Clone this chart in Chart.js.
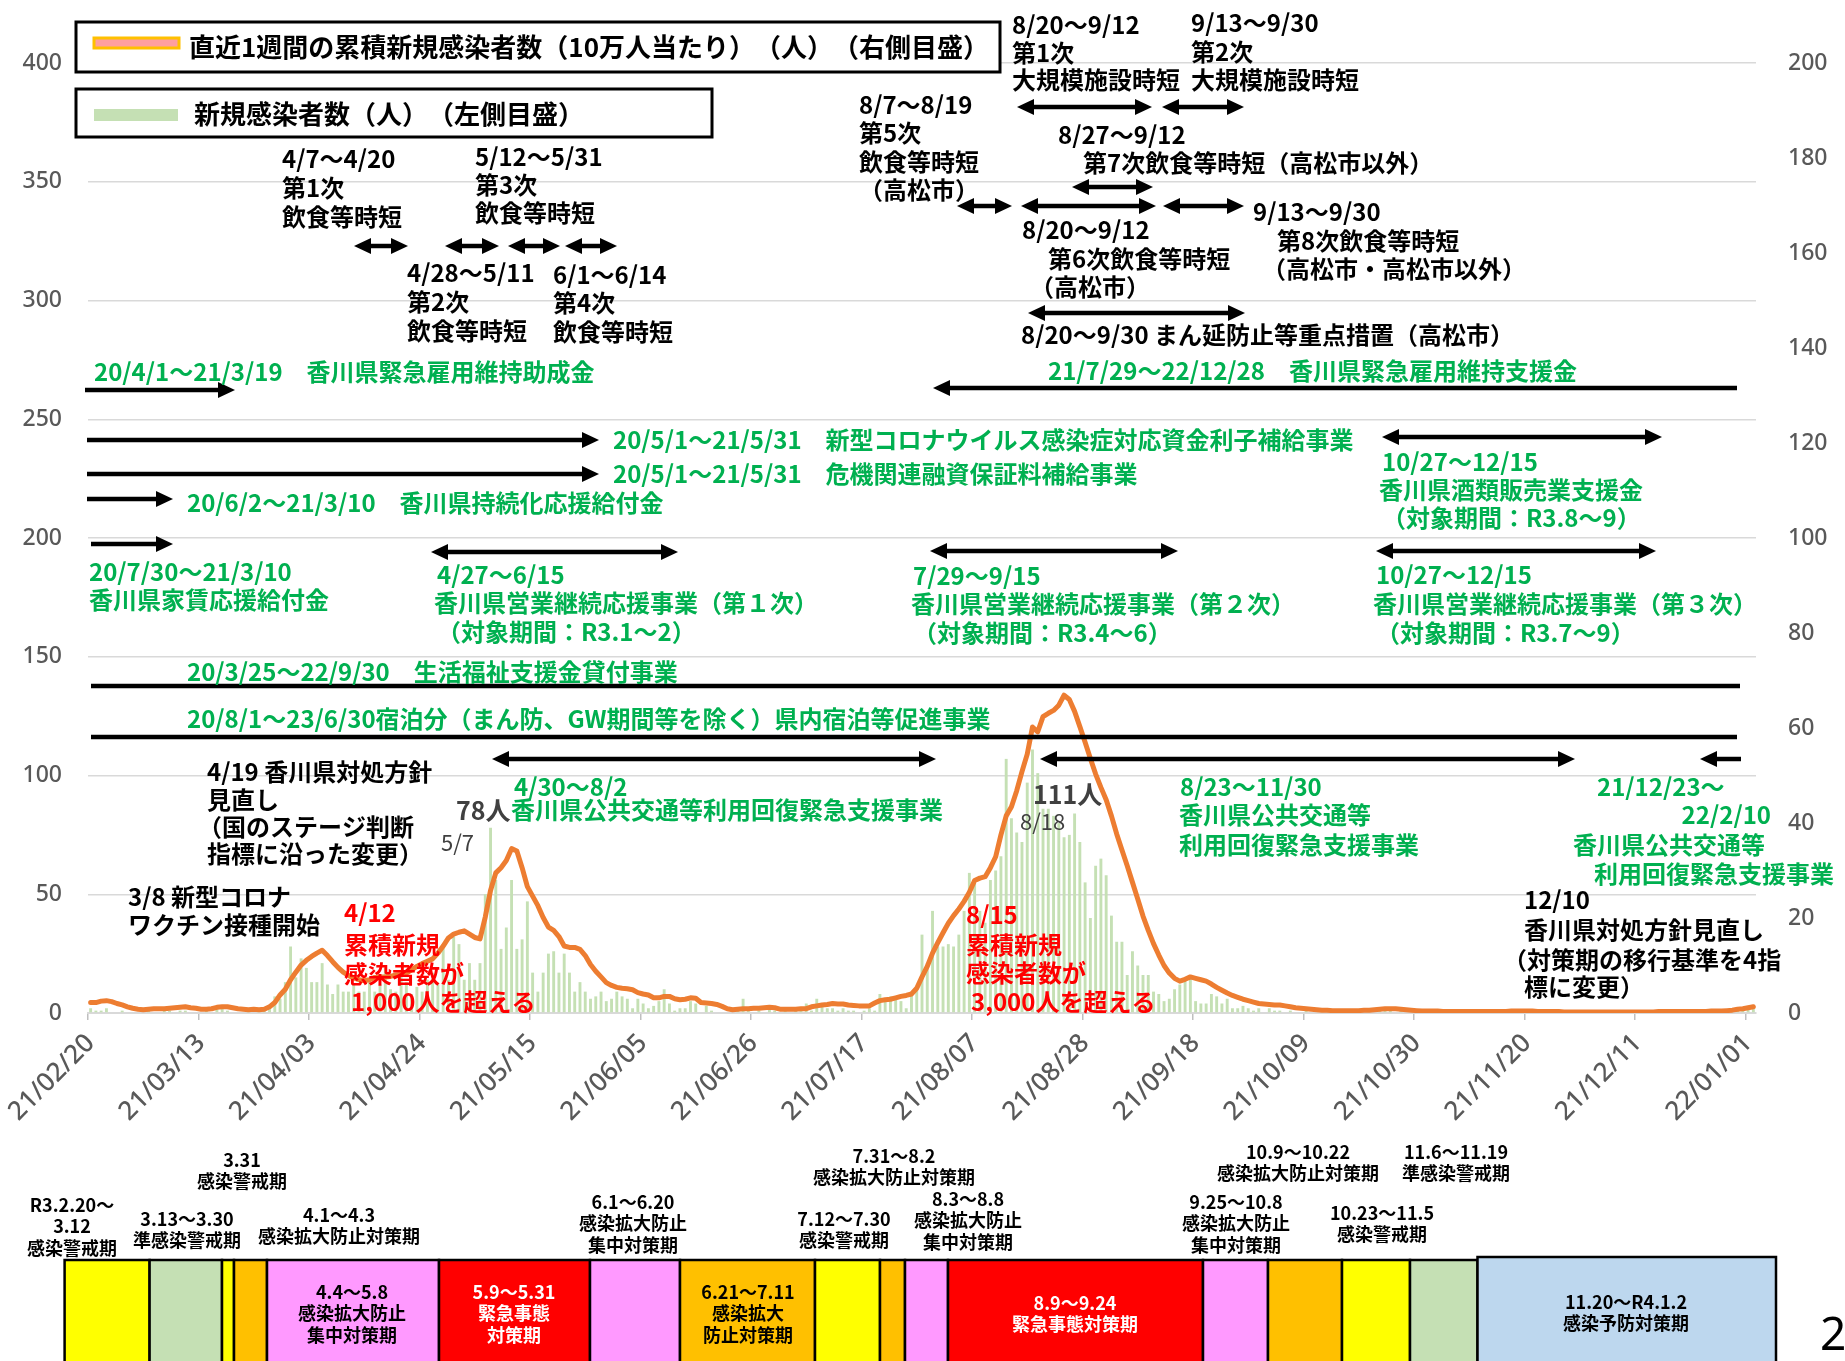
<!DOCTYPE html>
<html lang="ja">
<head>
<meta charset="utf-8">
<title>香川県 新規感染者数の推移</title>
<script src="https://cdn.jsdelivr.net/npm/chart.js@4.4.1/dist/chart.umd.min.js"></script>
<style>
  html, body { margin: 0; padding: 0; background: #fff; }
  #wrap { width: 1845px; height: 1361px; position: relative; }
</style>
</head>
<body>
<div id="wrap"><canvas id="covidChart"></canvas></div>
<script>
// categories: one per day, 21/02/20 .. 22/01/02
const startDate = new Date(2021, 1, 20);
const dayCount = 317;
const dayLabels = [];
for (let i = 0; i < dayCount; i++) {
    const d = new Date(startDate.getFullYear(), startDate.getMonth(), startDate.getDate() + i);
    const yy = String(d.getFullYear()).slice(2);
    const mm = String(d.getMonth() + 1).padStart(2, '0');
    const dd = String(d.getDate()).padStart(2, '0');
    dayLabels.push(yy + '/' + mm + '/' + dd);
}

// labelled ticks on the date axis
const tickLabels = ['21/02/20', '21/03/13', '21/04/03', '21/04/24', '21/05/15', '21/06/05',
    '21/06/26', '21/07/17', '21/08/07', '21/08/28', '21/09/18', '21/10/09',
    '21/10/30', '21/11/20', '21/12/11', '22/01/01'];

// 新規感染者数（人）, left axis
const dailyCases = [
    2, 1, 1, 2, 0, 0, 1, 0, 0, 0,
    0, 1, 0, 0, 1, 1, 0, 1, 1, 0,
    0, 0, 1, 0, 2, 2, 1, 0, 0, 0,
    1, 0, 1, 2, 2, 7, 6, 13, 28, 15,
    23, 19, 13, 13, 21, 12, 8, 12, 9, 9,
    12, 9, 9, 14, 9, 12, 19, 10, 9, 17,
    13, 8, 11, 9, 14, 17, 12, 29, 14, 32,
    29, 14, 21, 14, 21, 50, 78, 56, 27, 36,
    56, 27, 31, 47, 17, 9, 17, 25, 26, 17,
    25, 17, 9, 13, 9, 6, 7, 9, 5, 6,
    9, 7, 6, 2, 6, 4, 2, 3, 5, 10,
    4, 1, 2, 2, 5, 4, 0, 3, 1, 0,
    0, 0, 0, 1, 6, 1, 0, 1, 0, 2,
    1, 0, 1, 0, 1, 2, 4, 1, 6, 3,
    2, 2, 1, 2, 1, 1, 0, 1, 2, 1,
    8, 6, 7, 7, 5, 2, 8, 11, 33, 21,
    43, 28, 28, 29, 28, 33, 43, 59, 56, 43,
    38, 56, 60, 66, 107, 82, 76, 72, 97, 111,
    101, 86, 86, 83, 80, 74, 75, 84, 72, 55,
    40, 62, 65, 58, 41, 30, 30, 16, 26, 20,
    16, 16, 9, 8, 5, 6, 10, 12, 15, 16,
    5, 4, 4, 8, 7, 4, 6, 2, 2, 3,
    2, 1, 2, 0, 2, 1, 1, 0, 1, 0,
    0, 1, 0, 0, 1, 0, 0, 0, 1, 0,
    0, 0, 0, 1, 0, 1, 2, 1, 0, 1,
    0, 0, 0, 0, 0, 0, 1, 0, 0, 0,
    0, 0, 0, 0, 0, 0, 0, 0, 0, 0,
    0, 0, 1, 0, 0, 0, 0, 0, 0, 0,
    0, 0, 0, 0, 0, 0, 0, 0, 0, 0,
    0, 0, 0, 0, 0, 0, 0, 0, 0, 1,
    0, 0, 0, 0, 0, 0, 0, 0, 1, 0,
    0, 0, 1, 2, 2, 3, 2
];

// 直近1週間の累積新規感染者数（10万人当たり）, right axis
const weeklyPer100k = [
    2.2, 2.2, 2.5, 2.6, 2.4, 2.0, 1.7, 1.3, 1.0, 0.8,
    0.7, 0.8, 0.9, 0.9, 0.9, 1.0, 1.1, 1.2, 1.3, 1.1,
    1.0, 0.8, 0.8, 0.9, 1.2, 1.3, 1.3, 1.1, 0.9, 0.8,
    0.7, 0.8, 0.7, 0.8, 1.3, 2.2, 3.8, 5.0, 7.0, 8.6,
    10.1, 11.1, 11.9, 12.6, 13.2, 12.1, 10.8, 9.6, 8.6, 7.9,
    7.4, 7.0, 6.8, 7.0, 7.5, 7.6, 7.6, 7.7, 8.0, 8.1,
    8.4, 9.1, 9.8, 10.4, 10.9, 11.4, 12.6, 14.1, 15.8, 16.6,
    17.0, 17.3, 16.6, 15.9, 15.6, 20.2, 25.8, 29.5, 30.6, 32.1,
    34.6, 34.1, 30.6, 26.6, 24.6, 22.6, 20.1, 18.1, 17.4, 16.1,
    14.1, 13.8, 13.8, 13.4, 12.1, 10.2, 8.8, 7.6, 6.4, 5.8,
    5.4, 5.2, 5.1, 4.9, 4.3, 4.0, 3.8, 3.2, 3.2, 3.5,
    3.5, 3.0, 2.8, 2.9, 3.2, 3.1, 2.2, 2.1, 2.0, 1.8,
    1.4, 0.9, 0.7, 0.8, 0.9, 0.9, 1.0, 1.0, 1.1, 1.2,
    1.1, 0.8, 0.8, 0.8, 0.8, 0.9, 0.9, 1.3, 1.5, 1.7,
    1.8, 2.0, 1.9, 1.9, 1.7, 1.6, 1.5, 1.5, 1.5, 2.1,
    2.6, 2.8, 2.9, 3.2, 3.5, 3.7, 4.0, 5.2, 7.6, 9.8,
    12.6, 14.8, 16.9, 18.9, 20.5, 21.9, 23.5, 25.4, 27.9, 28.4,
    28.7, 30.6, 32.9, 37.5, 41.5, 43.4, 46.8, 50.8, 54.5, 60.2,
    59.2, 62.4, 63.1, 63.7, 64.8, 66.9, 66.0, 63.5, 60.3, 57.0,
    53.6, 50.3, 47.5, 44.9, 41.5, 37.7, 34.3, 31.0, 27.5, 24.0,
    20.4, 17.4, 14.6, 12.2, 10.0, 8.4, 7.3, 6.7, 7.1, 7.6,
    7.3, 7.0, 6.7, 6.1, 5.4, 4.8, 4.2, 3.7, 3.3, 2.9,
    2.6, 2.3, 2.0, 1.9, 1.8, 1.7, 1.7, 1.5, 1.3, 1.1,
    1.0, 0.9, 0.8, 0.7, 0.6, 0.6, 0.5, 0.5, 0.5, 0.5,
    0.5, 0.5, 0.6, 0.6, 0.7, 0.8, 0.9, 0.9, 0.9, 0.8,
    0.7, 0.6, 0.5, 0.4, 0.4, 0.4, 0.4, 0.3, 0.3, 0.3,
    0.3, 0.3, 0.3, 0.3, 0.3, 0.3, 0.3, 0.3, 0.3, 0.3,
    0.4, 0.4, 0.4, 0.4, 0.4, 0.3, 0.3, 0.3, 0.3, 0.3,
    0.2, 0.2, 0.2, 0.2, 0.2, 0.2, 0.2, 0.2, 0.2, 0.2,
    0.2, 0.2, 0.2, 0.2, 0.2, 0.2, 0.2, 0.2, 0.3, 0.3,
    0.3, 0.3, 0.3, 0.3, 0.3, 0.3, 0.3, 0.3, 0.4, 0.4,
    0.4, 0.5, 0.6, 0.8, 0.9, 1.1, 1.3
];

const seriesNames = ['直近1週間の累積新規感染者数（10万人当たり）（人）（右側目盛）', '新規感染者数（人）（左側目盛）'];

// ---- layout for the drawn-on notes (page pixels) ----
const GREEN = '#00B050';
const noteStyles = {
    k: { font: 'bold 24px "Noto Sans CJK JP"', color: '#000' },
    g: { font: 'bold 24px "Noto Sans CJK JP"', color: GREEN },
    r: { font: 'bold 24px "Noto Sans CJK JP"', color: '#FF0000' },
    n: { font: 'bold 25px "Noto Sans CJK JP"', color: '#404040' },
    d: { font: '22px "Noto Sans CJK JP"', color: '#404040' },
};

const notes = [
    ['4/7～4/20', 282, 159, 'k'], ['第1次', 282, 188, 'k'], ['飲食等時短', 282, 217, 'k'],
    ['5/12～5/31', 475, 157, 'k'], ['第3次', 475, 185, 'k'], ['飲食等時短', 475, 213, 'k'],
    ['4/28～5/11', 407, 273, 'k'], ['第2次', 407, 302, 'k'], ['飲食等時短', 407, 331, 'k'],
    ['6/1～6/14', 553, 275, 'k'], ['第4次', 553, 303, 'k'], ['飲食等時短', 553, 332, 'k'],
    ['8/7～8/19', 859, 105, 'k'], ['第5次', 859, 133, 'k'], ['飲食等時短', 859, 162, 'k'], ['（高松市）', 859, 190, 'k'],
    ['8/20～9/12', 1012, 25, 'k'], ['第1次', 1012, 53, 'k'], ['大規模施設時短', 1012, 80, 'k'],
    ['9/13～9/30', 1191, 23, 'k'], ['第2次', 1191, 52, 'k'], ['大規模施設時短', 1191, 80, 'k'],
    ['8/27～9/12', 1058, 135, 'k'], ['第7次飲食等時短（高松市以外）', 1083, 163, 'k'],
    ['8/20～9/12', 1022, 230, 'k'], ['第6次飲食等時短', 1048, 259, 'k'], ['（高松市）', 1030, 287, 'k'],
    ['9/13～9/30', 1253, 212, 'k'], ['第8次飲食等時短', 1277, 241, 'k'], ['（高松市・高松市以外）', 1262, 269, 'k'],
    ['8/20～9/30 まん延防止等重点措置（高松市）', 1021, 335, 'k'],
    ['4/19 香川県対処方針', 207, 772, 'k'], ['見直し', 207, 800, 'k'], ['（国のステージ判断', 198, 827, 'k'], ['指標に沿った変更）', 207, 854, 'k'],
    ['3/8 新型コロナ', 128, 897, 'k'], ['ワクチン接種開始', 128, 925, 'k'],
    ['12/10', 1524, 900, 'k'], ['香川県対処方針見直し', 1524, 930, 'k'], ['（対策期の移行基準を4指', 1503, 960, 'k'], ['標に変更）', 1524, 987, 'k'],
    ['78人', 456, 810, 'n'], ['5/7', 441, 843, 'd'], ['111人', 1033, 794, 'n'], ['8/18', 1020, 822, 'd'],
    ['4/12', 344, 913, 'r'], ['累積新規', 344, 945, 'r'], ['感染者数が', 344, 974, 'r'], ['1,000人を超える', 351, 1002, 'r'],
    ['8/15', 966, 915, 'r'], ['累積新規', 966, 945, 'r'], ['感染者数が', 966, 973, 'r'], ['3,000人を超える', 971, 1002, 'r'],
    ['20/4/1～21/3/19　香川県緊急雇用維持助成金', 94, 372, 'g'],
    ['21/7/29～22/12/28　香川県緊急雇用維持支援金', 1048, 371, 'g'],
    ['20/5/1～21/5/31　新型コロナウイルス感染症対応資金利子補給事業', 613, 440, 'g'],
    ['20/5/1～21/5/31　危機関連融資保証料補給事業', 613, 474, 'g'],
    ['20/6/2～21/3/10　香川県持続化応援給付金', 187, 503, 'g'],
    ['20/7/30～21/3/10', 89, 572, 'g'], ['香川県家賃応援給付金', 89, 600, 'g'],
    ['4/27～6/15', 437, 575, 'g'], ['香川県営業継続応援事業（第１次）', 434, 603, 'g'], ['（対象期間：R3.1～2）', 437, 632, 'g'],
    ['7/29～9/15', 913, 576, 'g'], ['香川県営業継続応援事業（第２次）', 911, 604, 'g'], ['（対象期間：R3.4～6）', 913, 633, 'g'],
    ['10/27～12/15', 1382, 462, 'g'], ['香川県酒類販売業支援金', 1379, 490, 'g'], ['（対象期間：R3.8～9）', 1382, 518, 'g'],
    ['10/27～12/15', 1376, 575, 'g'], ['香川県営業継続応援事業（第３次）', 1373, 604, 'g'], ['（対象期間：R3.7～9）', 1376, 633, 'g'],
    ['20/3/25～22/9/30　生活福祉支援金貸付事業', 187, 672, 'g'],
    ['20/8/1～23/6/30宿泊分（まん防、GW期間等を除く）県内宿泊等促進事業', 187, 719, 'g'],
    ['4/30～8/2', 514, 787, 'g'], ['香川県公共交通等利用回復緊急支援事業', 511, 810, 'g'],
    ['8/23～11/30', 1180, 787, 'g'], ['香川県公共交通等', 1179, 815, 'g'], ['利用回復緊急支援事業', 1179, 845, 'g'],
    ['21/12/23～', 1597, 787, 'g'], ['22/2/10', 1771, 815, 'g', 'right'], ['香川県公共交通等', 1573, 845, 'g'], ['利用回復緊急支援事業', 1594, 874, 'g'],
];

// [x1, x2, y, heads]
const arrows = [
    [354, 408, 246, 'both'], [445, 499, 246, 'both'], [508, 560, 246, 'both'], [565, 617, 246, 'both'],
    [1017, 1152, 107, 'both'], [1162, 1244, 107, 'both'],
    [1072, 1153, 187, 'both'],
    [957, 1012, 206, 'both'], [1021, 1156, 206, 'both'], [1163, 1244, 206, 'both'],
    [1028, 1245, 313, 'both'],
    [85, 235, 390, 'right'], [933, 1737, 388, 'left'],
    [87, 599, 440, 'right'], [87, 599, 474, 'right'], [87, 173, 499, 'right'], [91, 173, 544, 'right'],
    [431, 678, 552, 'both'], [930, 1178, 551, 'both'], [1382, 1662, 437, 'both'], [1376, 1656, 551, 'both'],
    [91, 1740, 686, 'none'], [91, 1737, 737, 'none'],
    [492, 936, 759, 'both'], [1040, 1575, 759, 'both'], [1700, 1741, 759, 'left'],
];

// period band under the chart
const bandEdges = [64.6, 149.6, 222, 234, 267, 439, 590, 680, 815, 880, 905, 948, 1203, 1268, 1342, 1410, 1477.5, 1776];
const bandColors = ['#FFFF00', '#C5E0B4', '#FFFF00', '#FFC000', '#FF99FF', '#FF0000', '#FF99FF', '#FFC000',
    '#FFFF00', '#FFC000', '#FF99FF', '#FF0000', '#FF99FF', '#FFC000', '#FFFF00', '#C5E0B4', '#BDD7EE'];
// [lines, centre x, first line y, colour]
const bandNotes = [
    [['R3.2.20～', '3.12', '感染警戒期'], 72, 1205, '#000'],
    [['3.31', '感染警戒期'], 242, 1160, '#000'],
    [['3.13～3.30', '準感染警戒期'], 187, 1219, '#000'],
    [['4.1～4.3', '感染拡大防止対策期'], 339, 1215, '#000'],
    [['6.1～6.20', '感染拡大防止', '集中対策期'], 633, 1202, '#000'],
    [['7.12～7.30', '感染警戒期'], 844, 1219, '#000'],
    [['7.31～8.2', '感染拡大防止対策期'], 894, 1156, '#000'],
    [['8.3～8.8', '感染拡大防止', '集中対策期'], 968, 1199, '#000'],
    [['9.25～10.8', '感染拡大防止', '集中対策期'], 1236, 1202, '#000'],
    [['10.9～10.22', '感染拡大防止対策期'], 1298, 1152, '#000'],
    [['10.23～11.5', '感染警戒期'], 1382, 1213, '#000'],
    [['11.6～11.19', '準感染警戒期'], 1456, 1152, '#000'],
    [['4.4～5.8', '感染拡大防止', '集中対策期'], 352, 1292, '#000'],
    [['5.9～5.31', '緊急事態', '対策期'], 514, 1292, '#fff'],
    [['6.21～7.11', '感染拡大', '防止対策期'], 748, 1292, '#000'],
    [['8.9～9.24', '緊急事態対策期'], 1075, 1303, '#fff'],
    [['11.20～R4.1.2', '感染予防対策期'], 1626, 1302, '#000'],
];

// draw text in pieces so that adjacent brackets keep their full width
function fillJP(ctx, text, x, y) {
    const parts = text.split(/(?<=[）])(?=（)/);
    let cx = x;
    parts.forEach(p => {
        ctx.fillText(p, cx, y);
        cx += ctx.measureText(p).width;
    });
}

function drawArrow(ctx, x1, x2, y, heads) {
    const hl = 17, hw = 8;
    let a = x1, b = x2;
    if (heads === 'both' || heads === 'left') a = x1 + hl - 2;
    if (heads === 'both' || heads === 'right') b = x2 - hl + 2;
    ctx.lineWidth = 4.5;
    ctx.strokeStyle = '#000';
    ctx.fillStyle = '#000';
    ctx.beginPath();
    ctx.moveTo(a, y);
    ctx.lineTo(b, y);
    ctx.stroke();
    if (heads === 'both' || heads === 'left') {
        ctx.beginPath();
        ctx.moveTo(x1, y); ctx.lineTo(x1 + hl, y - hw); ctx.lineTo(x1 + hl, y + hw);
        ctx.closePath(); ctx.fill();
    }
    if (heads === 'both' || heads === 'right') {
        ctx.beginPath();
        ctx.moveTo(x2, y); ctx.lineTo(x2 - hl, y - hw); ctx.lineTo(x2 - hl, y + hw);
        ctx.closePath(); ctx.fill();
    }
}

const overlay = {
    id: 'overlay',
    afterDraw(chart) {
        const ctx = chart.ctx;
        ctx.save();

        // legend boxes
        ctx.fillStyle = '#fff';
        ctx.strokeStyle = '#000';
        ctx.lineWidth = 3;
        ctx.fillRect(76, 22, 924, 50);
        ctx.strokeRect(76, 22, 924, 50);
        ctx.fillRect(76, 89, 636, 48);
        ctx.strokeRect(76, 89, 636, 48);
        ctx.fillStyle = '#FF9F9F';
        ctx.fillRect(94, 38, 85, 10);
        ctx.strokeStyle = '#FFC000';
        ctx.lineWidth = 3;
        ctx.strokeRect(94, 38, 85, 10);
        ctx.fillStyle = '#C5E0B4';
        ctx.fillRect(94, 109, 84, 12);
        ctx.fillStyle = '#000';
        ctx.font = 'bold 26px "Noto Sans CJK JP"';
        ctx.textBaseline = 'middle';
        ctx.textAlign = 'left';
        fillJP(ctx, seriesNames[0], 189, 47);
        fillJP(ctx, seriesNames[1], 194, 114);

        arrows.forEach(a => drawArrow(ctx, a[0], a[1], a[2], a[3]));

        notes.forEach(n => {
            const st = noteStyles[n[3]];
            ctx.font = st.font;
            ctx.fillStyle = st.color;
            if (n[4] === 'right') {
                ctx.textAlign = 'right';
                ctx.fillText(n[0], n[1], n[2]);
            } else {
                ctx.textAlign = 'left';
                fillJP(ctx, n[0], n[1], n[2]);
            }
        });

        // period band
        const bandTop = 1260;
        for (let i = 0; i < bandColors.length; i++) {
            const top = i === bandColors.length - 1 ? bandTop - 3 : bandTop;
            const x = bandEdges[i], w = bandEdges[i + 1] - bandEdges[i];
            ctx.fillStyle = bandColors[i];
            ctx.fillRect(x, top, w, 1361 - top + 4);
            ctx.strokeStyle = '#000';
            ctx.lineWidth = 2.5;
            ctx.strokeRect(x, top, w, 1361 - top + 4);
        }
        ctx.font = 'bold 18px "Noto Sans CJK JP"';
        ctx.textAlign = 'center';
        bandNotes.forEach(b => {
            ctx.fillStyle = b[3];
            b[0].forEach((line, j) => ctx.fillText(line, b[1], b[2] + j * 21.5));
        });

        ctx.font = '46px "Noto Sans"';
        ctx.fillStyle = '#000';
        ctx.textAlign = 'left';
        ctx.fillText('2', 1820, 1337);
        ctx.restore();
    }
};

const axisGrey = '#595959';

new Chart(document.getElementById('covidChart'), {
    data: {
        labels: dayLabels,
        datasets: [
            {
                type: 'line',
                label: seriesNames[0],
                data: weeklyPer100k,
                yAxisID: 'y1',
                borderColor: '#ED7D31',
                borderWidth: 5,
                pointRadius: 0,
                tension: 0,
                borderJoinStyle: 'round',
                borderCapStyle: 'round',
                order: 0,
            },
            {
                type: 'bar',
                label: seriesNames[1],
                data: dailyCases,
                yAxisID: 'y',
                backgroundColor: '#C5E0B4',
                barPercentage: 0.55,
                categoryPercentage: 1,
                order: 1,
            },
        ],
    },
    options: {
        responsive: true,
        maintainAspectRatio: false,
        animation: false,
        layout: { padding: { top: 63, left: 0, right: 0, bottom: 0 } },
        plugins: {
            legend: { display: false },
            tooltip: { enabled: false },
        },
        scales: {
            x: {
                type: 'category',
                offset: true,
                grid: {
                    offset: true,
                    drawOnChartArea: false,
                    drawTicks: true,
                    tickLength: 7,
                    lineWidth: 1.5,
                    color: ctx => (tickLabels.includes(dayLabels[ctx.index]) ? '#BFBFBF' : 'rgba(0,0,0,0)'),
                },
                border: { color: '#D9D9D9', width: 2 },
                ticks: {
                    autoSkip: false,
                    minRotation: 45,
                    maxRotation: 45,
                    padding: 8,
                    color: axisGrey,
                    font: { family: 'Noto Sans', size: 26, weight: '500' },
                    callback: (v, i) => (tickLabels.includes(dayLabels[i]) ? dayLabels[i] : ''),
                },
                afterFit: s => { s.height = 348; },
            },
            y: {
                position: 'left',
                min: 0,
                max: 400,
                ticks: { stepSize: 50, padding: 26, color: axisGrey, font: { family: 'Noto Sans', size: 23, weight: '500' } },
                grid: { color: '#D9D9D9', lineWidth: 1.5, drawTicks: false },
                border: { display: false },
                afterFit: s => { s.width = 88; },
            },
            y1: {
                position: 'right',
                min: 0,
                max: 200,
                ticks: { stepSize: 20, padding: 24, color: axisGrey, font: { family: 'Noto Sans', size: 23, weight: '500' } },
                grid: { display: false },
                border: { display: false },
                afterFit: s => { s.width = 89; },
            },
        },
    },
    plugins: [overlay],
});
</script>
</body>
</html>
